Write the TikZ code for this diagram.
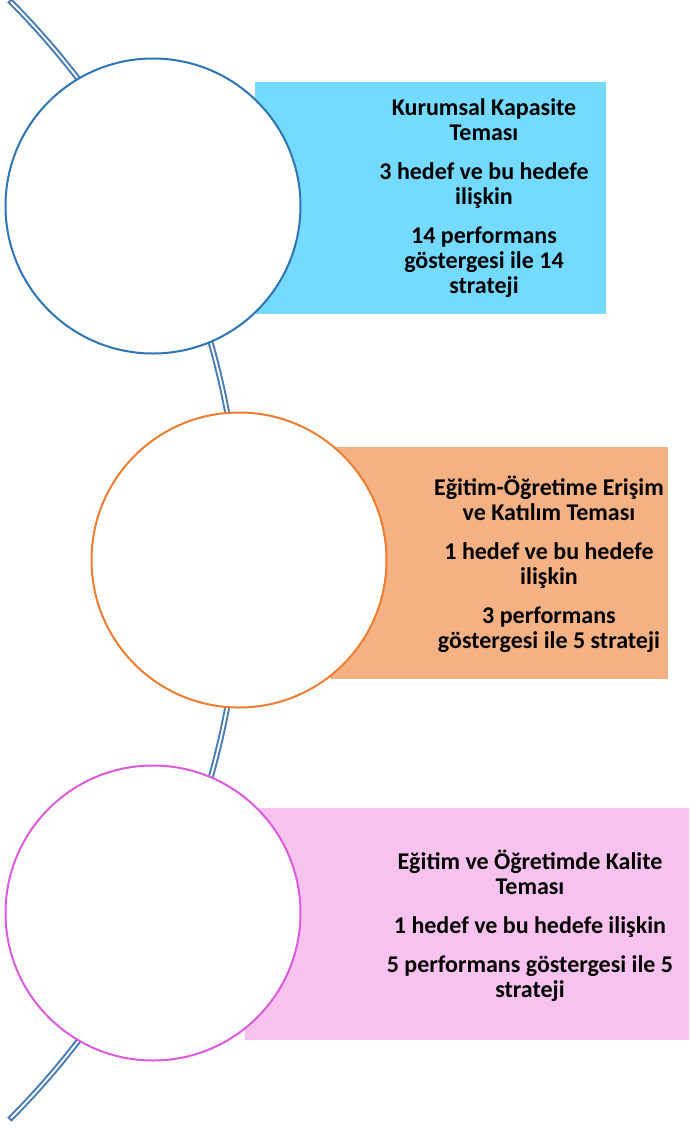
\documentclass[tikz,border=0pt]{standalone}
\usepackage{fontspec}
\setmainfont{Carlito}
\definecolor{band}{HTML}{4A7DB4}
\definecolor{cblue}{HTML}{2E75B6}
\definecolor{corange}{HTML}{ED7D31}
\definecolor{cmag}{HTML}{DC5ADC}
\definecolor{fcyan}{HTML}{75DAFF}
\definecolor{fpeach}{HTML}{F4B183}
\definecolor{fpink}{HTML}{F7C3EE}
\begin{document}
\begin{tikzpicture}[x=1pt,y=-1pt,
  bandline/.style={draw=band,line width=1.9pt,fill=white},
  circ/.style={circle,fill=white,line width=2pt,minimum size=295pt,inner sep=0pt},
  txt/.style={align=center,font=\fontsize{24}{25}\selectfont\bfseries,inner sep=0pt}]
\useasboundingbox (0,0) rectangle (689,1128);
\coordinate (c) at (-551,560);
\draw[bandline] ([shift={(-44.9:794)}]c) arc[start angle=-44.9,end angle=44.9,radius=794]
  -- ([shift={(44.9:790)}]c) arc[start angle=44.9,end angle=-44.9,radius=790] -- cycle;
\fill[fcyan] (255,82) rectangle (606,314);
\fill[fpeach] (330,447) rectangle (668,679);
\fill[fpink] (245,808) rectangle (689,1040);
\node[circ,draw=cblue] (c1) at (153,206) {};
\node[circ,draw=corange] (c2) at (239,560) {};
\node[circ,draw=cmag] (c3) at (153,913) {};
\node[txt] (t1) at (484,198) {Kurumsal Kapasite\\Teması\\[14pt]3 hedef ve bu hedefe\\ilişkin\\[14pt]14 performans\\göstergesi ile 14\\strateji};
\node[txt] (t2) at (549,564) {Eğitim-Öğretime Erişim\\ve Katılım Teması\\[14pt]1 hedef ve bu hedefe\\ilişkin\\[14pt]3 performans\\göstergesi ile 5 strateji};
\node[txt] (t3) at (530,926) {Eğitim ve Öğretimde Kalite\\Teması\\[14pt]1 hedef ve bu hedefe ilişkin\\[14pt]5 performans göstergesi ile 5\\strateji};
\end{tikzpicture}
\end{document}
